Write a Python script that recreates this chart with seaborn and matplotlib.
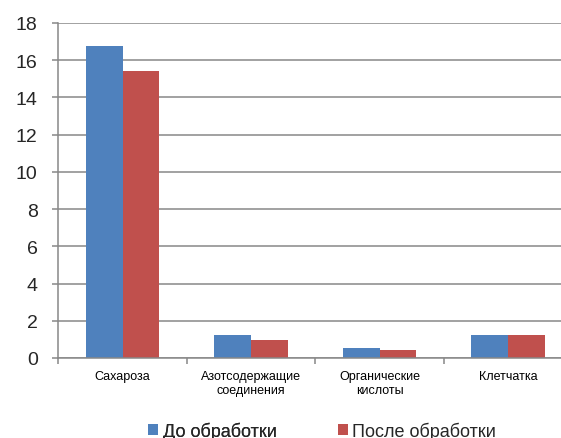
import matplotlib
matplotlib.use("Agg")
import matplotlib.pyplot as plt
import seaborn as sns
import pandas as pd
from matplotlib.ticker import FixedLocator

categories = ["Сахароза", "Азотсодержащие\nсоединения", "Органические\nкислоты", "Клетчатка"]
series_names = ["До обработки", "После обработки"]
before = [16.75, 1.22, 0.55, 1.22]
after = [15.4, 0.97, 0.43, 1.22]
y_ticks = [0, 2, 4, 6, 8, 10, 12, 14, 16, 18]
colors = ["#4F81BD", "#C0504D"]

df = pd.DataFrame({
    "category": categories * 2,
    "series": [series_names[0]] * len(categories) + [series_names[1]] * len(categories),
    "value": before + after,
})

sns.set_theme(style="white")
plt.rcParams["font.family"] = ["Liberation Sans", "DejaVu Sans"]

W, H = 561, 439
fig = plt.figure(figsize=(W / 100, H / 100), dpi=100)
ax = fig.add_axes([58.3 / W, 80 / H, 514 / W, 335 / H])

sns.barplot(data=df, x="category", y="value", hue="series", order=categories,
            hue_order=series_names, palette=colors, width=0.57, saturation=1,
            edgecolor="none", linewidth=0, ax=ax, legend=True)

ax.set_xlim(-0.5, len(categories) - 0.5)
ax.set_ylim(0, 18)
ax.set_yticks(y_ticks)
ax.set_yticklabels([str(v) for v in y_ticks], fontsize=14)
ax.yaxis.grid(True, color="#888888", linewidth=1.1)
ax.set_axisbelow(True)
ax.set_xlabel("")
ax.set_ylabel("")

ax.set_xticks(range(len(categories)))
ax.set_xticklabels(categories, fontsize=9, linespacing=1.2)
ax.xaxis.set_minor_locator(FixedLocator([i - 0.5 for i in range(len(categories) + 1)]))
ax.tick_params(axis="x", which="major", length=0, pad=8.5, colors="#000000")
ax.tick_params(axis="x", which="minor", length=4, width=1.1, color="#888888", bottom=True)
ax.tick_params(axis="y", which="major", length=4.3, width=1.1, color="#888888", left=True, pad=10.5)

for side in ["top", "right"]:
    ax.spines[side].set_visible(False)
for side in ["left", "bottom"]:
    ax.spines[side].set_color("#888888")
    ax.spines[side].set_linewidth(1.1)

handles, labels = ax.get_legend_handles_labels()
ax.get_legend().remove()
l1 = fig.legend([handles[0]], [labels[0]], loc="center left",
                bbox_to_anchor=(148.3 / W, 7 / H), frameon=False, fontsize=13,
                borderpad=0, borderaxespad=0, handlelength=0.55, handleheight=0.55,
                handletextpad=0.25)
fig.add_artist(l1)
l2 = fig.legend([handles[1]], [labels[1]], loc="center left",
                bbox_to_anchor=(338 / W, 7 / H), frameon=False, fontsize=13,
                borderpad=0, borderaxespad=0, handlelength=0.55, handleheight=0.55,
                handletextpad=0.25)

fig.savefig("out.png", dpi=100)
